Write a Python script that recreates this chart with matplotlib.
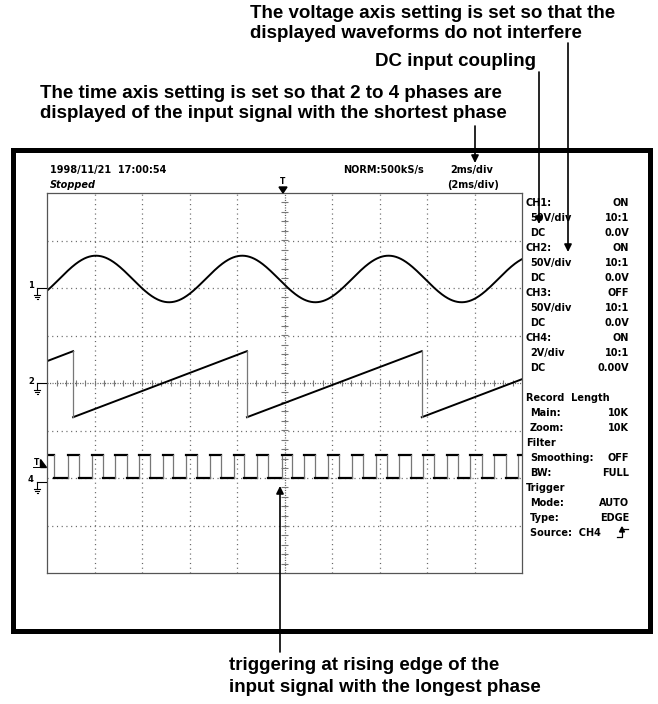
import numpy as np
import matplotlib
matplotlib.use("Agg")
import matplotlib.pyplot as plt
from matplotlib.patches import Polygon, Rectangle

W, H = 658, 704

# --- readings off the screen, in divisions (10 x 8 graticule, centre = 5, 0) ---
# CH1: sine
sine_mid = 2.19
sine_amp = 0.49
sine_period = 3.08
sine_peak_at = 1.03

# CH2: sawtooth corners
saw_x = [0.0, 0.55, 0.55, 4.21, 4.21, 7.89, 7.89, 10.0]
saw_y = [0.46, 0.67, -0.72, 0.67, -0.72, 0.67, -0.72, 0.08]

# CH4: square wave edges
sq_rise = [0.45, 0.94, 1.43, 1.94, 2.44, 2.92, 3.43, 3.94, 4.43, 4.95,
           5.41, 5.92, 6.42, 6.92, 7.42, 7.92, 8.42, 8.91, 9.41, 9.92]
sq_fall = [0.15, 0.68, 1.17, 1.68, 2.17, 2.66, 3.16, 3.66, 4.15, 4.66,
           5.15, 5.64, 6.15, 6.66, 7.15, 7.66, 8.15, 8.66, 9.15, 9.66]
sq_high = -1.52
sq_low = -2.0

ground_levels = {"1": 2.0, "2": 0.0, "4": -2.08}
trig_level = -1.68

# right hand settings panel
panel = [
    ("CH1:", "ON", 0), ("50V/div", "10:1", 1), ("DC", "0.0V", 1),
    ("CH2:", "ON", 0), ("50V/div", "10:1", 1), ("DC", "0.0V", 1),
    ("CH3:", "OFF", 0), ("50V/div", "10:1", 1), ("DC", "0.0V", 1),
    ("CH4:", "ON", 0), ("2V/div", "10:1", 1), ("DC", "0.00V", 1),
    ("", "", 0),
    ("Record  Length", "", 0), ("Main:", "10K", 1), ("Zoom:", "10K", 1),
    ("Filter", "", 0), ("Smoothing:", "OFF", 1), ("BW:", "FULL", 1),
    ("Trigger", "", 0), ("Mode:", "AUTO", 1), ("Type:", "EDGE", 1),
    ("Source:  CH4", "", 1),
]

plt.rcParams['lines.scale_dashes'] = False
scope_font = ['DejaVu Sans']
note_font = ['Liberation Sans Narrow', 'Liberation Sans', 'DejaVu Sans']

fig = plt.figure(figsize=(W / 100, H / 100), dpi=100)
fig.patch.set_facecolor('white')

# graticule: 47..522 px across, 193..573 px down
gx0, gy0, gw, gh = 47, 193, 475, 380
ax = fig.add_axes([gx0 / W, 1 - (gy0 + gh) / H, gw / W, gh / H])
ax.set_xlim(0, 10)
ax.set_ylim(-4, 4)
ax.set_xticks([])
ax.set_yticks([])
for s in ax.spines.values():
    s.set_color('#555555')
    s.set_linewidth(0.9)

grid_kw = dict(color='#666666', lw=0.9, ls=(0, (0.8, 2.6)))
for gxv in range(1, 10):
    if gxv != 5:
        ax.axvline(gxv, **grid_kw)
for gyv in range(-3, 4):
    if gyv != 0:
        ax.axhline(gyv, **grid_kw)
ax.axvline(5, color='#666666', lw=0.9, ls=(0, (0.8, 1.0)))
ax.axhline(0, color='#666666', lw=0.9, ls=(0, (0.8, 1.0)))
tk = np.arange(0.2, 10, 0.2)
ax.vlines(tk, -0.07, 0.07, color='#777777', lw=0.8)
tk = np.arange(-3.8, 4, 0.2)
ax.hlines(tk, 4.93, 5.07, color='#777777', lw=0.8)

# CH1 sine
t = np.linspace(0, 10, 800)
ax.plot(t, sine_mid + sine_amp * np.cos(2 * np.pi * (t - sine_peak_at) / sine_period),
        color='black', lw=1.4)

# CH2 sawtooth
for i in range(0, len(saw_x), 2):
    ax.plot(saw_x[i:i + 2], saw_y[i:i + 2], color='black', lw=1.4)
for i in range(1, len(saw_x) - 1, 2):
    ax.plot(saw_x[i:i + 2], saw_y[i:i + 2], color='#777777', lw=0.9)

# CH4 square wave
edges = sorted([(e, sq_high) for e in sq_rise] + [(e, sq_low) for e in sq_fall])
level = sq_high
start = 0.0
for e, new in edges:
    ax.plot([start, e], [level, level], color='black', lw=1.6)
    ax.plot([e, e], [level, new], color='#777777', lw=0.9)
    start, level = e, new
ax.plot([start, 10], [level, level], color='black', lw=1.6)

# overlay in pixel units for everything else
ov = fig.add_axes([0, 0, 1, 1])
ov.set_xlim(0, W)
ov.set_ylim(H, 0)
ov.axis('off')
ov.patch.set_alpha(0)


def ypx(d):
    return gy0 + gh / 2 - d * gh / 8


ov.add_patch(Rectangle((12.5, 150), 637.5, 480.5, fill=False, lw=3.6, ec='black'))

# header
st = dict(fontsize=7, family=scope_font, fontweight='bold', va='center', color='black')
ov.text(50, 170, "1998/11/21  17:00:54", **st)
ov.text(50, 185, "Stopped", style='italic', **st)
ov.text(343, 170, "NORM:500kS/s", **st)
ov.text(450, 170, "2ms/div", **st)
ov.text(447, 185, "(2ms/div)", **st)

# trigger position marker on top
ov.text(283, 181, "T", fontsize=5.5, family=scope_font, fontweight='bold', ha='center', va='center')
ov.add_patch(Polygon([(279, 187), (287, 187), (283, 193)], closed=True, color='black'))

# ground markers
for lab, lev in ground_levels.items():
    yl = ypx(lev)
    ov.text(31, yl - 2, lab, fontsize=6, family=scope_font, fontweight='bold', ha='center', va='center')
    ov.plot([37, 46], [yl, yl], color='black', lw=0.8)
    ov.plot([37, 37], [yl, yl + 7], color='black', lw=0.8)
    ov.plot([34, 40], [yl + 7, yl + 7], color='black', lw=0.8)
    ov.plot([35, 39], [yl + 9, yl + 9], color='black', lw=0.8)
    ov.plot([36.5, 37.5], [yl + 11, yl + 11], color='black', lw=0.8)

yt = ypx(trig_level)
ov.text(37, yt, "T", fontsize=5.5, family=scope_font, fontweight='bold', ha='center', va='center')
ov.plot([33, 41], [yt + 4, yt + 4], color='black', lw=0.7)
ov.add_patch(Polygon([(40, yt - 4), (40, yt + 4), (46, yt + 4)], closed=True, color='black'))

# settings panel
for i, (lab, val, ind) in enumerate(panel):
    yy = 203 + 15 * i
    if lab:
        ov.text(526 + 4 * ind, yy, lab, **st)
    if val:
        ov.text(629, yy, val, ha='right', **st)
ys = 203 + 15 * (len(panel) - 1)
ov.plot([617, 622, 622, 628], [ys + 4, ys + 4, ys - 4, ys - 4], color='black', lw=0.9)
ov.add_patch(Polygon([(619.5, ys - 1), (624.5, ys - 1), (622, ys - 6)], closed=True, color='black'))

# annotations
nt = dict(fontsize=13.5, family=note_font, fontweight='bold', va='center', color='black')
ov.text(250, 14, "The voltage axis setting is set so that the", **nt)
ov.text(250, 33, "displayed waveforms do not interfere", **nt)
ov.text(375, 61, "DC input coupling", **nt)
ov.text(40, 94, "The time axis setting is set so that 2 to 4 phases are", **nt)
ov.text(40, 113, "displayed of the input signal with the shortest phase", **nt)
ov.text(229, 666, "triggering at rising edge of the", **nt)
ov.text(229, 688, "input signal with the longest phase", **nt)

arr = dict(arrowstyle='-|>', color='black', lw=1.2, mutation_scale=11, shrinkA=0, shrinkB=0)
ov.annotate('', xy=(568, 252), xytext=(568, 43), arrowprops=arr)
ov.annotate('', xy=(539, 224), xytext=(539, 72), arrowprops=arr)
ov.annotate('', xy=(475, 163), xytext=(475, 126), arrowprops=arr)
ov.annotate('', xy=(280, 486), xytext=(280, 652), arrowprops=arr)

fig.savefig("out.png", dpi=100)
